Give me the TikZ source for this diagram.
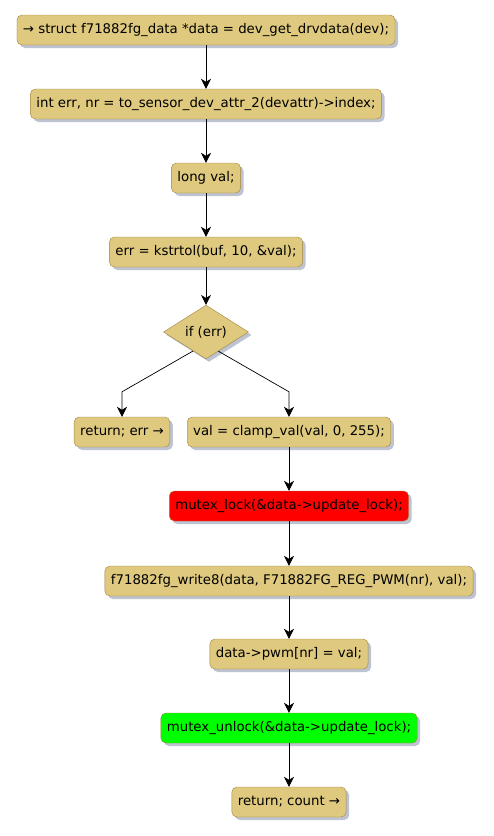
\documentclass[tikz,border=0pt]{standalone}
\usepackage{fontspec}
\setmainfont{DejaVu Sans}
\usetikzlibrary{shapes.geometric,arrows.meta,calc,shadows}
\definecolor{actfill}{RGB}{222,201,126}
\definecolor{actline}{RGB}{160,132,64}
\definecolor{shade}{RGB}{172,180,198}
\definecolor{lockred}{RGB}{255,0,0}
\definecolor{unlockgreen}{RGB}{0,255,0}
\begin{document}
\begin{tikzpicture}[x=1pt, y=-1pt,
  act/.style={draw=actline, fill=actfill, rounded corners=5pt, minimum height=30pt, inner xsep=6pt, text height=10pt, text depth=3pt, font=\fontsize{13.3}{15}\selectfont, drop shadow={shadow xshift=3pt, shadow yshift=-3pt, fill=shade, opacity=0.8}},
  cond/.style={diamond, draw=actline, fill=actfill, inner sep=0pt, minimum width=85pt, minimum height=42pt, font=\fontsize{13.3}{15}\selectfont, drop shadow={shadow xshift=3pt, shadow yshift=-3pt, fill=shade, opacity=0.8}},
  flow/.style={-{Stealth[length=10pt, width=10pt, inset=3pt]}, black, line width=0.7pt}]
\useasboundingbox (0,0) rectangle (494,836);
\node[act] (getdata) at (206,30) {→ struct f71882fg\_data *data = dev\_get\_drvdata(dev);};
\node[act] (getidx) at (206,104) {int err, nr = to\_sensor\_dev\_attr\_2(devattr)->index;};
\node[act] (val) at (206,178) {long val;};
\node[act] (strtol) at (206,252) {err = kstrtol(buf, 10, \&val);};
\node[cond] (iferr) at (206,332) {if (err)};
\node[act] (reterr) at (122,432) {return; err →};
\node[act] (clamp) at (289,432) {val = clamp\_val(val, 0, 255);};
\node[act, fill=lockred] (lock) at (289,506) {mutex\_lock(\&data->update\_lock);};
\node[act] (write) at (289,581) {f71882fg\_write8(data, F71882FG\_REG\_PWM(nr), val);};
\node[act] (store) at (289,654) {data->pwm[nr] = val;};
\node[act, fill=unlockgreen] (unlock) at (289,728) {mutex\_unlock(\&data->update\_lock);};
\node[act] (retcount) at (289,802) {return; count →};
\draw[flow] (getdata) -- (getidx);
\draw[flow] (getidx) -- (val);
\draw[flow] (val) -- (strtol);
\draw[flow] (strtol) -- (iferr);
\draw[flow] ($(iferr.west)!0.7!(iferr.south)$) -- ([yshift=25pt]reterr.north) -- (reterr.north);
\draw[flow] ($(iferr.east)!0.71!(iferr.south)$) -- ([yshift=25pt]clamp.north) -- (clamp.north);
\draw[flow] (clamp) -- (lock);
\draw[flow] (lock) -- (write);
\draw[flow] (write) -- (store);
\draw[flow] (store) -- (unlock);
\draw[flow] (unlock) -- (retcount);
\end{tikzpicture}
\end{document}
